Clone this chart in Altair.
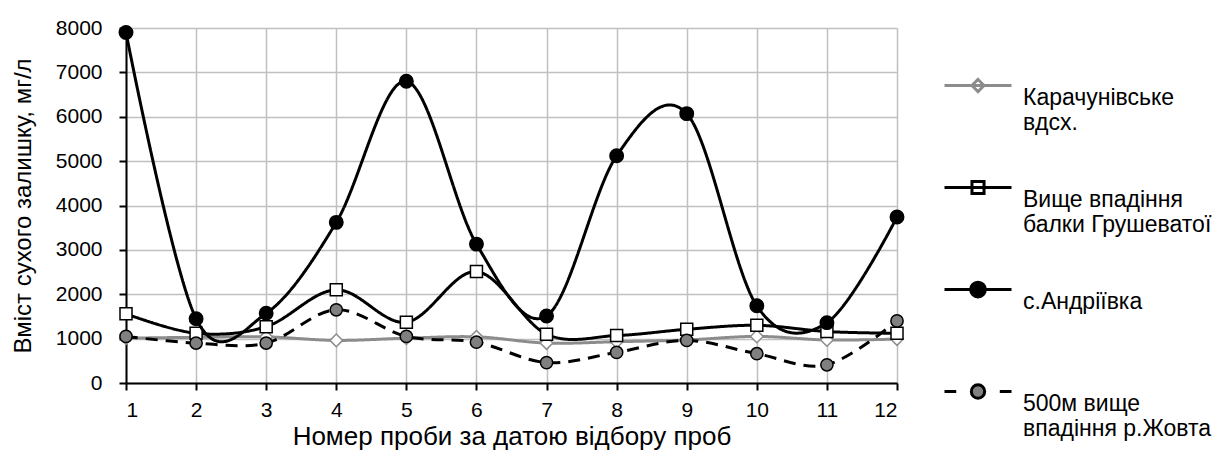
import altair as alt
import pandas as pd

samples = list(range(1, 13))
y_ticks = [0, 1000, 2000, 3000, 4000, 5000, 6000, 7000, 8000]

names = [
    "Карачунівське|вдсх.",
    "Вище впадіння|балки Грушеватої",
    "с.Андріївка| ",
    "500м вище|впадіння р.Жовта",
]
karach = [1010, 1030, 1040, 960, 1010, 1040, 900, 930, 970, 1050, 970, 990]
grush = [1560, 1120, 1270, 2100, 1370, 2510, 1100, 1070, 1210, 1300, 1160, 1120]
andr = [7900, 1450, 1570, 3620, 6800, 3130, 1510, 5120, 6070, 1740, 1360, 3740]
zhovta = [1050, 900, 900, 1650, 1050, 920, 460, 690, 960, 660, 410, 1400]
all_values = [karach, grush, andr, zhovta]

rows = []
for name, vals in zip(names, all_values):
    for s, v in zip(samples, vals):
        rows.append({"sample": s, "value": v, "series": name})
df = pd.DataFrame(rows)

FONT = "Liberation Sans"

# styles per series
line_color = ["#8c8c8c", "#000000", "#000000", "#000000"]
line_dash = [[1, 0], [1, 0], [1, 0], [12, 8]]
pt_shape = ["diamond", "square", "circle", "circle"]
pt_fill = ["#ffffff", "#ffffff", "#000000", "#808080"]
pt_stroke = ["#8c8c8c", "#000000", "#000000", "#000000"]
pt_size = [160, 144, 180, 150]

# legend symbol paths (unit coords, scaled by sqrt(size)/2)
d = -0.373
leg_paths = [
    f"M-1,{d}H1M0,{d-0.18}L0.18,{d}L0,{d+0.18}L-0.18,{d}Z",
    f"M-1,{d}H1M-0.18,{d-0.18}H0.18V{d+0.18}H-0.18Z",
    f"M-1,{d}H1M0.22,{d}A0.22,0.22 0 1,1 -0.22,{d}A0.22,0.22 0 1,1 0.22,{d}Z",
    f"M-1,{d}H-0.65M0.65,{d}H1M0.2,{d}A0.2,0.2 0 1,1 -0.2,{d}A0.2,0.2 0 1,1 0.2,{d}Z",
]

x_enc = alt.X(
    "sample:Q",
    scale=alt.Scale(domain=[1, 12], nice=False, zero=False),
    axis=alt.Axis(
        values=samples, format="d", title="Номер проби за датою відбору проб",
        grid=True, gridColor="#c0c0c0", gridWidth=1.5,
        domainColor="#000000", domainWidth=2, tickColor="#000000", tickWidth=2, tickSize=7,
        labelFont=FONT, labelFontSize=21, labelColor="#000000", labelPadding=9,
        titleFont=FONT, titleFontSize=26, titleFontWeight="normal", titleColor="#000000",
        titlePadding=3,
    ),
)
y_enc = alt.Y(
    "value:Q",
    scale=alt.Scale(domain=[0, 8000], nice=False),
    axis=alt.Axis(
        values=y_ticks, format="d", title="Вміст сухого залишку, мг/л",
        grid=True, gridColor="#c0c0c0", gridWidth=1.5,
        domainColor="#000000", domainWidth=2, tickColor="#000000", tickWidth=2, tickSize=7,
        labelFont=FONT, labelFontSize=21, labelColor="#000000", labelPadding=17,
        titleFont=FONT, titleFontSize=24, titleFontWeight="normal", titleColor="#000000",
        titlePadding=20,
    ),
)

base = alt.Chart(df)
layers = []
for i, name in enumerate(names):
    layers.append(
        base.transform_filter(alt.datum.series == name)
        .mark_line(interpolate="cardinal", tension=0, strokeWidth=3,
                   color=line_color[i], strokeDash=line_dash[i])
        .encode(x=x_enc, y=y_enc, order="sample:Q")
    )
    layers.append(
        base.transform_filter(alt.datum.series == name)
        .mark_point(shape=pt_shape[i], filled=True, fill=pt_fill[i], stroke=pt_stroke[i],
                    strokeWidth=1.5, size=pt_size[i], opacity=1)
        .encode(x=x_enc, y=y_enc)
    )

leg = alt.Legend(
    title=None, orient="none", legendX=817, legendY=35, padding=0,
    symbolSize=4489, symbolStrokeWidth=3, rowPadding=30,
    labelFont=FONT, labelFontSize=23, labelColor="#000000", labelOffset=10,
    labelLimit=400, labelBaseline="middle",
    labelExpr="split(datum.label, '|')",
)
legend_layer = (
    base.transform_filter("false")
    .mark_point(filled=True, opacity=1, strokeWidth=3)
    .encode(
        x=x_enc, y=y_enc,
        shape=alt.Shape("series:N", scale=alt.Scale(domain=names, range=leg_paths), legend=leg),
        fill=alt.Fill("series:N", scale=alt.Scale(domain=names, range=pt_fill), legend=leg),
        stroke=alt.Stroke("series:N", scale=alt.Scale(domain=names, range=pt_stroke), legend=leg),
    )
)

chart = (
    alt.layer(*layers, legend_layer)
    .properties(
        width=771, height=355,
        autosize=alt.AutoSizeParams(type="none"),
        padding={"left": 118, "top": 20, "right": 316, "bottom": 70},
    )
    .configure_view(stroke=None)
)

chart.save("out.html", embed_options={"renderer": "svg", "actions": False})
